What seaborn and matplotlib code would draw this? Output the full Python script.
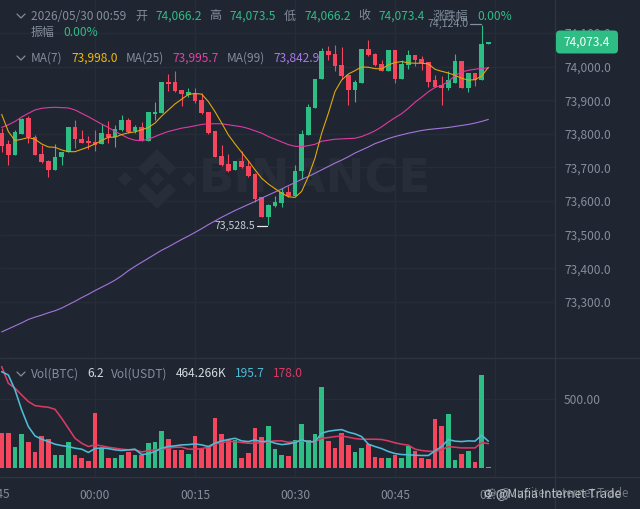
import matplotlib
matplotlib.use("Agg")
import numpy as np
import pandas as pd
import seaborn as sns
import matplotlib.pyplot as plt
from matplotlib.patches import FancyBboxPatch, Polygon
from matplotlib.lines import Line2D
from matplotlib.transforms import Affine2D

minutes = list(range(-14, 60))

opens = [73802,73769,73736,73800,73847,73790,73740,73719,73692,73730,73747,73820,73786,73778,
73776,73770,73801,73790,73811,73842,73808,73821,73780,73858,73861,73955,73953,73931,73916,73922,
73901,73864,73807,73735,73710,73693,73720,73703,73680,73612,73553,73584,73594,73627,73614,73691,
73798,73878,73962,74047,74037,74005,73975,73931,73952,74052,74038,74008,73988,74050,73964,74005,
74035,74022,74015,73960,73945,73935,73952,74017,73935,73980,73960,74066.2]
closes = [73765,73736,73805,73845,73790,73737,73715,73693,73732,73747,73819,73784,73774,73772,
73768,73802,73790,73814,73842,73805,73821,73780,73864,73864,73955,73949,73928,73919,73923,73897,
73861,73802,73731,73706,73691,73720,73700,73675,73607,73553,73589,73598,73627,73614,73691,73799,
73880,73963,74047,74035,74003,73971,73931,73954,74052,74034,74005,73988,74050,73964,74008,74035,
74020,74012,73955,73940,73937,73960,74017,73935,73980,73960,74067,74073.4]
highs = [73817,73782,73810,73847,73852,73797,73767,73723,73769,73747,73819,73840,73812,73794,
73810,73830,73837,73827,73857,73847,73826,73834,73866,73894,73955,73978,73988,73931,73936,73936,
73921,73864,73807,73767,73740,73720,73750,73718,73683,73612,73591,73614,73639,73644,73708,73812,
73889,73963,74055,74060,74065,74058,73975,73960,74052,74079,74040,74020,74050,74050,74020,74050,
74035,74032,74015,73975,73972,73988,74037,74017,73980,73980,74124,74073.5]
lows = [73745,73706,73736,73800,73772,73736,73713,73671,73692,73708,73747,73759,73772,73755,
73750,73769,73772,73762,73807,73804,73802,73778,73780,73842,73861,73926,73925,73883,73911,73893,
73859,73800,73731,73703,73687,73693,73698,73673,73596,73553,73528.5,73582,73582,73612,73614,73666,
73798,73878,73962,74020,73988,73962,73886,73896,73952,74030,74003,73987,73988,73952,73963,73992,
74002,73990,73940,73938,73886,73930,73952,73935,73925,73942,73960,74066.2]

ma7 = [73858,73807,73780,73784,73789,73784,73770,73761,73760,73752,73747,73747,73754,73761,
73770,73780,73790,73790,73798,73803,73806,73812,73819,73832,73853,73871,73889,73903,73917,73920,
73918,73896,73866,73832,73797,73770,73745,73720,73693,73668,73651,73637,73624,73613,73611,73629,
73673,73728,73802,73861,73926,73960,73978,73988,73999,73998,73994,73993,74005,74012,74015,74011,
74010,74010,74008,73992,73986,73981,73974,73965,73960,73961,73972,73998]
ma25 = [73819,73827,73837,73850,73861,73871,73876,73878,73879,73878,73877,73871,73861,73851,
73840,73829,73819,73807,73797,73787,73781,73780,73784,73792,73800,73807,73812,73817,73820,73824,
73828,73830,73830,73830,73827,73824,73821,73816,73809,73802,73792,73784,73776,73768,73763,73762,
73765,73769,73778,73781,73784,73785,73786,73787,73792,73800,73809,73821,73835,73848,73860,73876,
73894,73909,73925,73938,73944,73956,73973,73984,73989,73992,73995,73995.7]
ma99 = [73211,73220,73229,73238,73248,73255,73261,73268,73274,73282,73292,73302,73313,73323,
73334,73344,73354,73365,73378,73393,73406,73418,73430,73442,73454,73464,73475,73486,73496,73507,
73518,73530,73541,73552,73562,73572,73581,73590,73599,73609,73618,73627,73636,73646,73655,73665,
73673,73683,73693,73703,73713,73722,73732,73743,73752,73761,73771,73778,73786,73792,73797,73802,
73806,73810,73813,73815,73817,73819,73822,73825,73828,73832,73837,73842.9]

volumes = [258,258,152,249,191,118,232,210,97,97,191,94,75,53,
401,147,75,77,94,118,94,94,184,191,270,213,133,135,101,237,
145,155,362,249,205,205,75,111,292,227,307,140,99,85,205,321,
205,249,592,198,147,256,171,116,147,174,80,72,72,97,72,162,
128,77,63,355,307,396,60,104,123,43,679,6.2]
vol_ma_fast = [700,676,568,423,302,234,210,193,174,164,157,145,138,114,
142,147,142,133,128,133,138,99,104,121,145,157,162,169,171,176,
169,157,181,198,208,217,198,193,205,191,198,181,171,176,186,205,
191,193,254,268,275,280,261,249,229,174,157,142,121,106,99,97,
94,92,92,126,157,208,196,193,198,196,239,195.7]
vol_ma_slow = [737,616,580,531,483,454,447,442,427,362,290,217,181,157,
169,162,152,145,138,133,133,118,126,133,138,145,152,152,138,138,
142,152,174,186,193,193,186,181,181,186,193,198,198,188,191,200,
193,191,217,222,229,234,225,215,210,210,210,208,198,184,174,167,
138,128,123,121,133,157,152,147,147,147,186,178.0]

price_ticks = [73300,73400,73500,73600,73700,73800,73900,74000,74100]
vol_ticks = [500]
time_ticks = [0, 15, 30, 45, 60]
time_labels = ["00:00", "00:15", "00:30", "00:45", "01:00"]
first_time_label = "23:45"

BG = "#1f2531"
GRID = "#272d38"
SEP = "#2f3540"
GRAY = "#848e9c"
GREEN = "#2ebd85"
RED = "#f6465d"
YELLOW = "#f0b90b"
MAGENTA = "#e83fa5"
PURPLE = "#a97be8"
CYAN = "#4fbcd6"
CRIMSON = "#d93a63"

sns.set_theme(style="dark")
plt.rcParams["font.family"] = ["Noto Sans CJK SC", "DejaVu Sans"]
plt.rcParams["axes.unicode_minus"] = False

W, H = 640, 509
fig = plt.figure(figsize=(W / 100, H / 100), dpi=100, facecolor=BG)
px = Affine2D().scale(1 / W, -1 / H).translate(0, 1) + fig.transFigure

ax1 = fig.add_axes([0, (H - 358) / H, 555 / W, 358 / H], facecolor=BG)
ax2 = fig.add_axes([0, (H - 477) / H, 555 / W, 118 / H], facecolor=BG)

df = pd.DataFrame(dict(minute=minutes, open=opens, close=closes, high=highs, low=lows,
                       ma7=ma7, ma25=ma25, ma99=ma99, vol=volumes,
                       vf=vol_ma_fast, vs=vol_ma_slow))
df["up"] = np.where(df["close"] >= df["open"], "up", "down")
df["bottom"] = df[["open", "close"]].min(axis=1)
df["height"] = (df["close"] - df["open"]).abs()
colors = df["up"].map({"up": GREEN, "down": RED}).tolist()

# watermark
for pts in ([(-7, 0), (0, -7), (7, 0), (0, 7)],
            [(-39, 0), (-32, -7), (-25, 0), (-32, 7)],
            [(39, 0), (32, -7), (25, 0), (32, 7)],
            [(0, -30), (19, -11), (12, -4), (0, -16), (-12, -4), (-19, -11)],
            [(0, 30), (19, 11), (12, 4), (0, 16), (-12, 4), (-19, 11)]):
    ax1.add_patch(Polygon([(157 + a, 179 + b) for a, b in pts], closed=True, transform=px,
                          facecolor="#282e39", edgecolor="none", zorder=0.6))
ax1.text(199, 180, "BINANCE", transform=px, color="#282e39", fontsize=33.5, fontweight="bold",
         family="DejaVu Sans", va="center", ha="left", zorder=0.6)

# candles
ax1.vlines(df["minute"], df["low"], df["high"], colors=colors, linewidth=0.8, zorder=2)
ax1.bar(df["minute"], df["height"], bottom=df["bottom"], width=0.74, color=colors,
        linewidth=0, zorder=2.1)

sns.lineplot(data=df, x="minute", y="ma99", color="#a475dd", linewidth=0.8, ax=ax1, zorder=3,
             estimator=None, errorbar=None)
sns.lineplot(data=df, x="minute", y="ma25", color="#e03aa2", linewidth=0.8, ax=ax1, zorder=3.1,
             estimator=None, errorbar=None)
sns.lineplot(data=df, x="minute", y="ma7", color="#e0a80c", linewidth=0.8, ax=ax1, zorder=3.2,
             estimator=None, errorbar=None)

sns.barplot(data=df, x="minute", y="vol", hue="up", palette={"up": GREEN, "down": RED},
            native_scale=True, dodge=False, width=0.72, saturation=1, legend=False,
            errorbar=None, linewidth=0, ax=ax2, zorder=2)
sns.lineplot(data=df, x="minute", y="vs", color=CRIMSON, linewidth=1.15, ax=ax2, zorder=3,
             estimator=None, errorbar=None)
sns.lineplot(data=df, x="minute", y="vf", color=CYAN, linewidth=1.15, ax=ax2, zorder=3.1,
             estimator=None, errorbar=None)

x_low = (0 - 95) / (100 / 15)
x_high = (555 - 95) / (100 / 15)
for ax in (ax1, ax2):
    ax.set_xlabel("")
    ax.set_ylabel("")
    ax.set_xticks(time_ticks)
    ax.set_xlim(x_low, x_high)
    ax.grid(True, color=GRID, linewidth=1)
    ax.set_axisbelow(True)
    ax.yaxis.tick_right()
    for s in ax.spines.values():
        s.set_visible(False)

ax1.set_yticks(price_ticks)
ax1.set_yticklabels([f"{v:,.1f}" for v in price_ticks])
ax1.set_ylim(73133.5, 74198)
ax1.tick_params(axis="y", length=0, pad=6.5, labelsize=8.6, labelcolor=GRAY)
ax1.tick_params(axis="x", length=0, labelbottom=False)

ax2.set_yticks(vol_ticks)
ax2.set_yticklabels([f"{v:.2f}" for v in vol_ticks])
ax2.set_ylim(-64, 792)
ax2.set_xticklabels(time_labels)
ax2.set_xlim(x_low, x_high)
ax2.tick_params(axis="y", length=0, pad=6.5, labelsize=8.6, labelcolor=GRAY)
ax2.tick_params(axis="x", length=0, pad=8.5, labelsize=8.6, labelcolor=GRAY)

# the 23:45 label sits half outside the left edge of the picture
fig.text(-5, 494.5, first_time_label, transform=px, color=GRAY, fontsize=8.6, va="center", ha="center")

# separators
for xs, ys in (([0, W], [358, 358]), ([0, W], [477, 477]), ([555, 555], [0, H])):
    fig.add_artist(Line2D(xs, ys, transform=px, color=SEP, linewidth=1, zorder=1))

def label(x, y, s, color=GRAY, size=8.6, z=6):
    fig.text(x, y, s, transform=px, color=color, fontsize=size, va="center", ha="left", zorder=z)

def chevron(x, y):
    fig.add_artist(Line2D([x - 4, x, x + 4], [y - 2, y + 2, y - 2], transform=px,
                          color=GRAY, linewidth=0.9, zorder=6))

chevron(21, 16)
chevron(21, 58)
chevron(21, 374)

label(31, 16, "2026/05/30 00:59")
for x, s in ((135, "开"), (209, "高"), (284, "低"), (358, "收"), (433, "涨跌幅")):
    label(x, 16, s)
for x, s in ((155, "74,066.2"), (229, "74,073.5"), (304, "74,066.2"), (378, "74,073.4"), (477, "0.00%")):
    label(x, 16, s, GREEN)
label(31, 32, "振幅")
label(63, 32, "0.00%", GREEN)

label(31, 58, "MA(7)")
label(71, 58, "73,998.0", YELLOW)
label(126, 58, "MA(25)")
label(172, 58, "73,995.7", MAGENTA)
label(227, 58, "MA(99)")
label(273, 58, "73,842.9", PURPLE)

label(31, 374, "Vol(BTC)")
label(87, 374, "6.2", "#d5d9de")
label(111, 374, "Vol(USDT)")
label(176, 374, "464.266K", "#d5d9de")
label(235, 374, "195.7", CYAN)
label(273, 374, "178.0", CRIMSON)

# extreme markers
label(428, 24, "74,124.0", GRAY, 7.6)
fig.add_artist(Line2D([470, 481], [24, 24], transform=px, color=GRAY, linewidth=0.9, zorder=6))
label(215, 226, "73,528.5", "#c9ced4", 7.6)
fig.add_artist(Line2D([257, 267], [226, 226], transform=px, color="#e6e8ea", linewidth=0.9, zorder=6))

# price tag
fig.add_artist(FancyBboxPatch((556, 30.5), 62, 23, boxstyle="round,pad=0,rounding_size=4",
                              transform=px, facecolor=GREEN, edgecolor="none", zorder=8))
fig.text(587, 42.5, "74,073.4", transform=px, color="#ffffff", fontsize=8.6, va="center",
         ha="center", zorder=9)

# footer watermark
fig.text(483, 494, "\u2699 @Mafia Internet Trade", transform=px, color="#d0d3d7", fontsize=8.6,
         va="center", ha="left", alpha=0.85, zorder=7)
fig.text(487, 494, "\u2699 @Jupiter Internet Trade", transform=px, color="#c3c7cc", fontsize=8.3,
         va="center", ha="left", alpha=0.5, zorder=7)

fig.savefig("out.png", dpi=100, facecolor=BG)
